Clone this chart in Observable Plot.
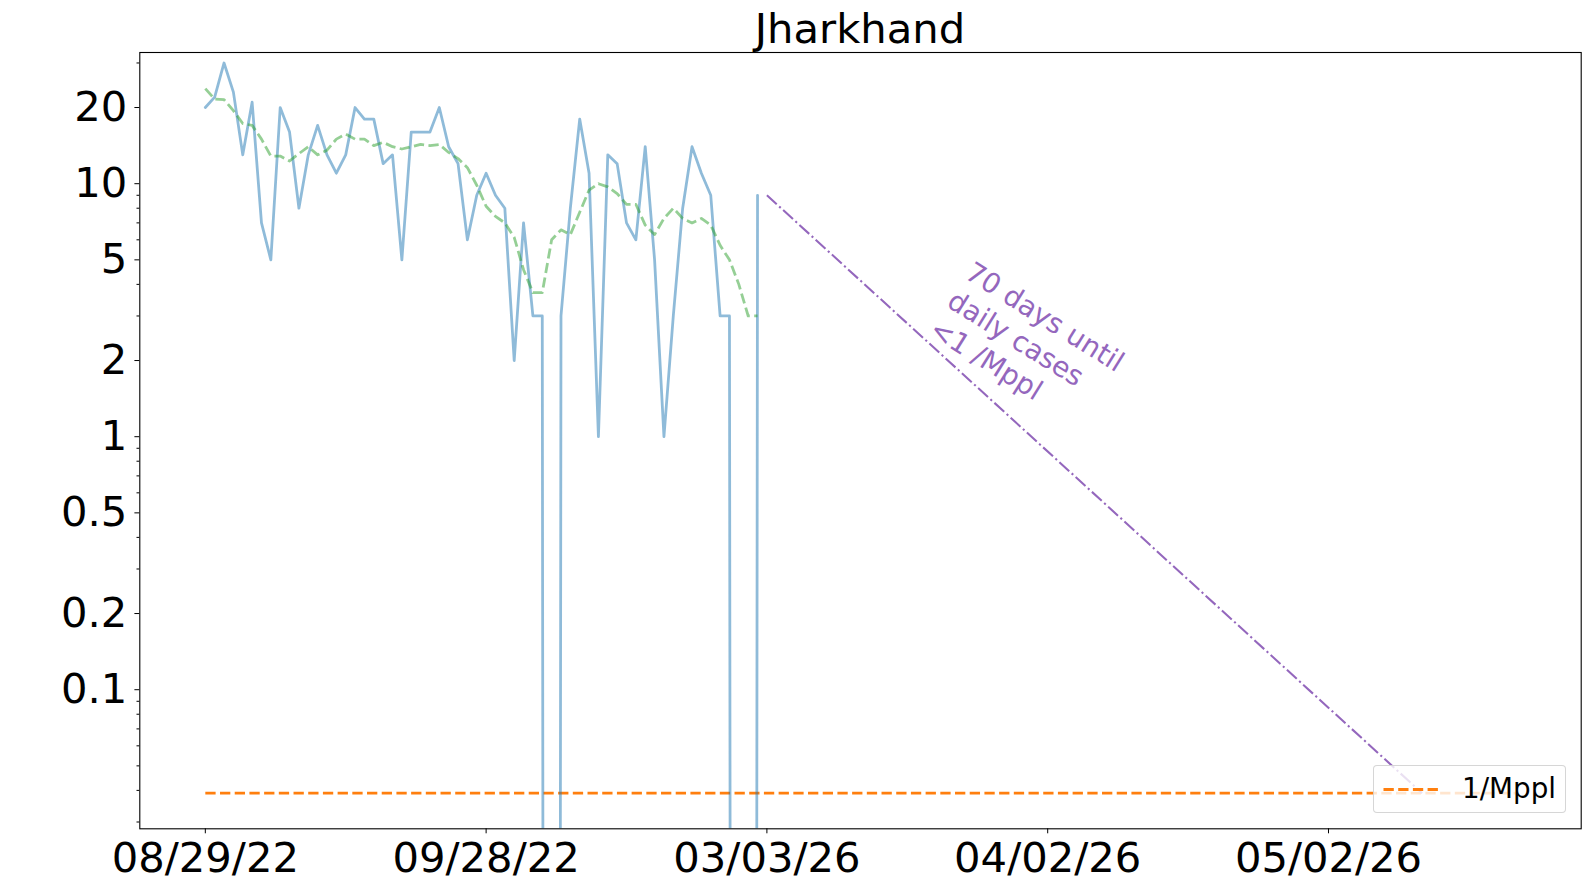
<!DOCTYPE html>
<html>
<head>
<meta charset="utf-8">
<script src="https://cdn.jsdelivr.net/npm/d3@7"></script>
<script src="https://cdn.jsdelivr.net/npm/@observablehq/plot@0.6"></script>
<style>
  body { margin: 0; background: #fff; font-family: "DejaVu Sans", sans-serif; }
  #wrap { position: relative; width: 1590px; height: 890px; }
  #title { position: absolute; left: 139px; width: 1442px; top: 8px; line-height: 41.7px;
           font-size: 41.7px; text-align: center; color: #000; }
  #legend { position: absolute; left: 1373px; top: 765px; width: 193px; height: 48px;
            box-sizing: border-box; background: rgba(255,255,255,0.8);
            border: 1px solid rgba(204,204,204,0.8); border-radius: 4px; }
  #legend svg { position: absolute; left: 0; top: 0; }
  #legend span { position: absolute; left: 88px; top: 9px; font-size: 27.8px; line-height: 27.8px; color: #000; white-space: nowrap; }
</style>
</head>
<body>
<div id="wrap">
  <div id="chart"></div>
  <div id="title">Jharkhand</div>
  <div id="legend">
    <svg width="80" height="46"><line x1="9.5" x2="64.5" y1="23.5" y2="23.5" stroke="#ff7f0e" stroke-width="2.78" stroke-dasharray="10.3,4.4"/></svg>
    <span>1/Mppl</span>
  </div>
</div>
<script>
// Daily cases, one value per day starting at day 0
const dailyCases = [20, 22, 30, 23, 13, 21, 7, 5, 20, 16,
                    8, 13, 17, 13, 11, 13, 20, 18, 18, 12,
                    13, 5, 16, 16, 16, 20, 14, 12, 6, 9,
                    11, 9, 8, 2, 7, 3, 3, 0, 3, 8,
                    18, 11, 1, 13, 12, 7, 6, 14, 5, 1,
                    3, 8, 14, 11, 9, 3, 3, 0, 0, 9];
// Smoothed daily cases (dashed green)
const smoothedCases = [23.75, 21.6, 21.5, 19.43, 17.29, 17.0, 15.0, 12.86, 12.86, 12.29,
                       13.14, 14.0, 13.0, 13.57, 15.0, 15.71, 15.0, 15.0, 14.14, 14.57,
                       14.0, 13.71, 14.0, 14.29, 14.14, 14.29, 13.29, 12.57, 11.57, 9.86,
                       8.14, 7.43, 7.0, 6.14, 4.57, 3.71, 3.71, 6.0, 6.57, 6.29,
                       7.71, 9.43, 10.0, 9.71, 9.14, 8.29, 8.29, 6.86, 6.29, 7.29,
                       8.0, 7.29, 7.0, 7.29, 6.86, 5.71, 5.0, 4.0, 3.0, 3.0];
// Projection (purple dash-dot)
const projectionDays = [60, 130];
const projectionValues = [9, 0.039];
// Threshold 1/Mppl (orange dashed)
const thresholdDays = [0, 140];
const thresholdValue = 0.039;
// Axis ticks
const xTickDays = [0, 30, 60, 90, 120];
const xTickLabels = ["08/29/22", "09/28/22", "03/03/26", "04/02/26", "05/02/26"];
const yMajorTicks = [0.1, 0.2, 0.5, 1, 2, 5, 10, 20];
const yMinorTicks = [0.03, 0.04, 0.05, 0.06, 0.07, 0.08, 0.09, 0.3, 0.4, 0.6, 0.7, 0.8, 0.9,
                     3, 4, 6, 7, 8, 9, 30];
// Annotation
const annotationText = "70 days until\ndaily cases\n<1 /Mppl";
const annotationX = [79.7];
const annotationY = [3.58];

const casesData = dailyCases.map((v, i) => ({day: i, v}));
const smoothData = smoothedCases.map((v, i) => ({day: i, v}));
const projData = projectionDays.map((d, i) => ({day: d, v: projectionValues[i]}));
const threshData = thresholdDays.map(d => ({day: d, v: thresholdValue}));
const labelOf = new Map(xTickDays.map((d, i) => [d, xTickLabels[i]]));

const chart = Plot.plot({
  width: 1590,
  height: 890,
  marginLeft: 139.3,
  marginRight: 9.3,
  marginTop: 52,
  marginBottom: 61.7,
  style: {fontFamily: "DejaVu Sans", color: "#000", background: "transparent"},
  x: {domain: [-7, 147]},
  y: {type: "log", domain: [0.0282, 33]},
  marks: [
    Plot.line(threshData, {x: "day", y: "v", stroke: "#ff7f0e", strokeWidth: 2.78,
      strokeDasharray: "10.3,4.4", strokeLinecap: "butt"}),
    Plot.line(casesData, {x: "day", y: d => (d.v > 0 ? d.v : 1e-30), stroke: "#1f77b4",
      strokeOpacity: 0.5, strokeWidth: 2.78, strokeLinejoin: "round", clip: true}),
    Plot.line(smoothData, {x: "day", y: "v", stroke: "#2ca02c", strokeOpacity: 0.5,
      strokeWidth: 2.78, strokeDasharray: "10.3,4.4", strokeLinecap: "butt"}),
    Plot.line(projData, {x: "day", y: "v", stroke: "#9467bd", strokeWidth: 2.08,
      strokeDasharray: "13.3,3.3,2.1,3.3", strokeLinecap: "butt"}),
    Plot.text([annotationText], {x: annotationX, y: annotationY, text: d => d,
      rotate: 32, fill: "#9467bd", fontSize: 27.8, textAnchor: "start",
      lineAnchor: "middle", lineHeight: 1.21}),
    Plot.frame({stroke: "#000", strokeWidth: 1.1}),
    Plot.axisX(xTickDays, {tickFormat: d => labelOf.get(d), fontSize: 41.7, tickSize: 5,
      tickPadding: 9, label: null, stroke: "#000"}),
    Plot.axisY(yMajorTicks, {tickFormat: d => String(d), fontSize: 41.7, tickSize: 4.9,
      tickPadding: 7.7, label: null, stroke: "#000"}),
    Plot.axisY(yMinorTicks, {tickFormat: () => "", tickSize: 2.8, label: null, stroke: "#000"})
  ]
});
document.getElementById("chart").appendChild(chart);
</script>
</body>
</html>
